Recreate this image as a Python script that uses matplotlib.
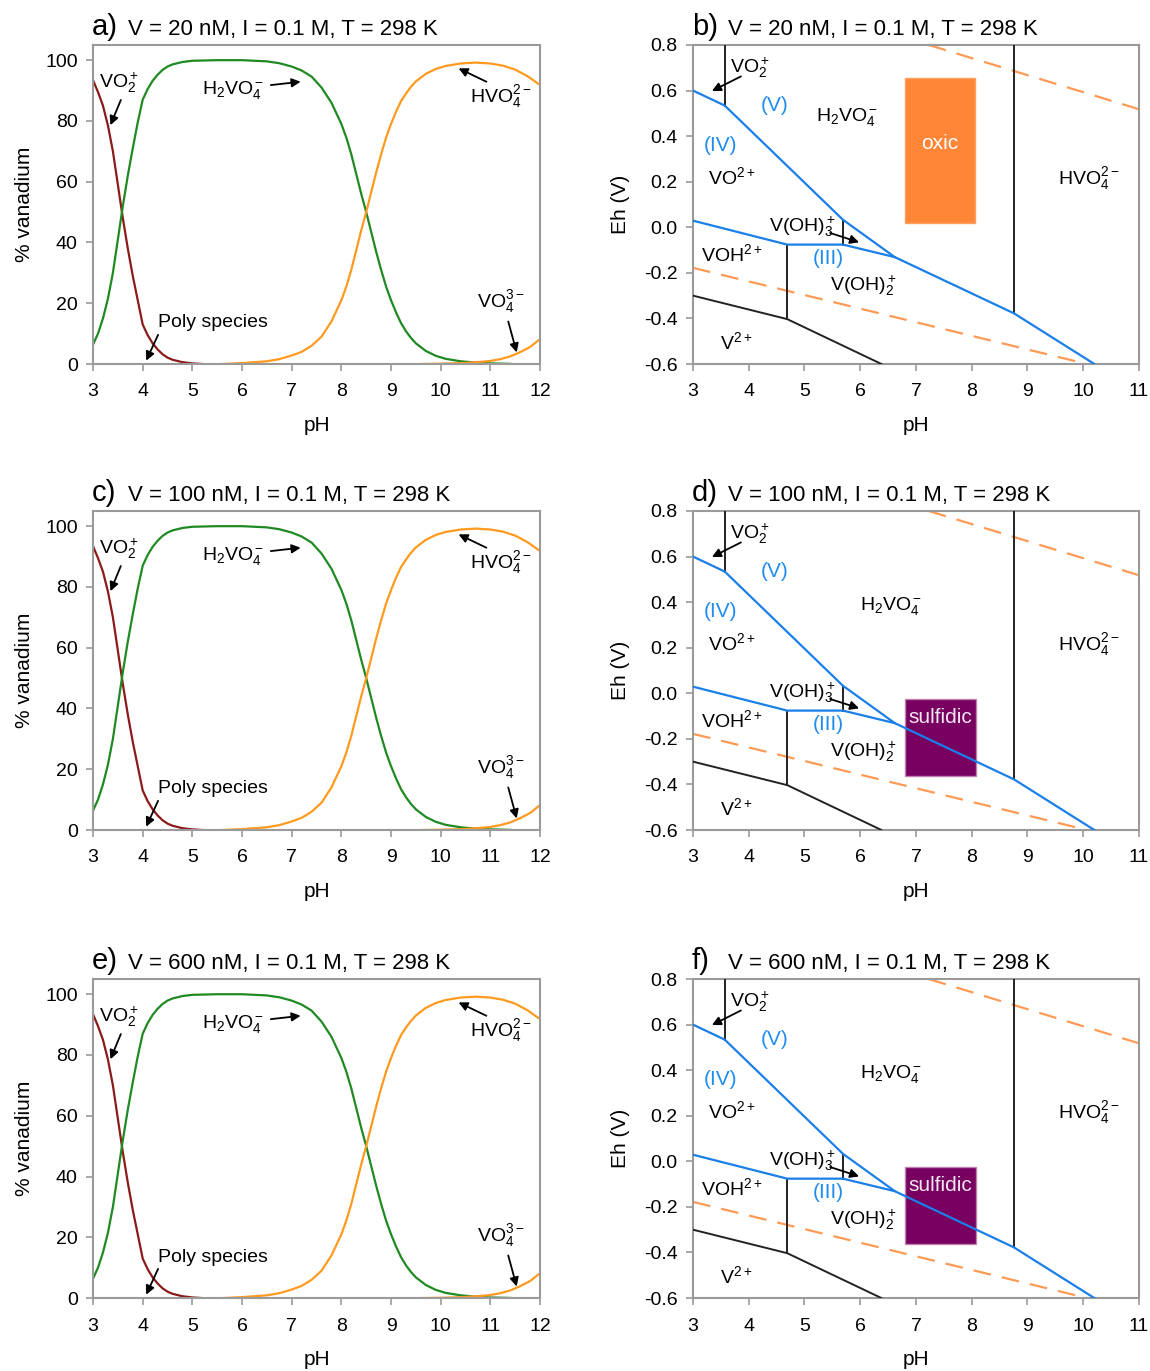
import numpy as np
import matplotlib
matplotlib.use("Agg")
import matplotlib.pyplot as plt
from matplotlib.patches import Rectangle

plt.rcParams['font.family'] = ['Liberation Sans', 'DejaVu Sans']
plt.rcParams['mathtext.fontset'] = 'custom'
plt.rcParams['mathtext.rm'] = 'Liberation Sans'
plt.rcParams['mathtext.it'] = 'Liberation Sans:italic'
plt.rcParams['mathtext.default'] = 'regular'

# ====== speciation data (% vanadium vs pH) ======
ph_vo2 = [3.0, 3.1, 3.2, 3.3, 3.4, 3.5, 3.6, 3.7, 3.8, 3.9, 4.0, 4.1, 4.2, 4.3, 4.4,
          4.5, 4.6, 4.8, 5.0, 5.2]
pct_vo2 = [93.4, 89.5, 85, 78.5, 70, 59, 48, 38, 29, 21, 13, 9.5, 6.8, 4.8, 3.2,
           2.1, 1.4, 0.6, 0.2, 0]

ph_h2vo4 = [3.0, 3.1, 3.2, 3.3, 3.4, 3.5, 3.6, 3.7, 3.8, 3.9, 4.0, 4.1, 4.2, 4.3, 4.4,
            4.5, 4.6, 4.8, 5.0, 5.5, 6.0, 6.5, 6.75, 7.0, 7.2, 7.4, 7.6, 7.8, 8.0, 8.1,
            8.2, 8.3, 8.4, 8.5, 8.6, 8.7, 8.8, 8.9, 9.0, 9.1, 9.2, 9.3, 9.4, 9.5, 9.7,
            9.9, 10.1, 10.4, 10.7, 11.0, 11.4]
pct_h2vo4 = [6.4, 10, 15, 21.5, 30, 41, 52, 62, 71, 79.5, 87, 90.5, 93.2, 95.2, 96.8,
             97.9, 98.6, 99.4, 99.8, 100, 100, 99.6, 99.0, 97.9, 96.6, 94.6, 91, 86, 79, 74.5,
             69, 62.5, 56, 50, 43.5, 37, 31, 25.5, 21, 17, 13.5, 10.8, 8.6, 6.8, 4.3,
             2.7, 1.7, 0.9, 0.45, 0.2, 0.05]

ph_hvo4 = [5.6, 6.0, 6.5, 6.75, 7.0, 7.2, 7.4, 7.6, 7.8, 8.0, 8.1, 8.2, 8.3, 8.4, 8.5,
           8.6, 8.7, 8.8, 8.9, 9.0, 9.1, 9.2, 9.3, 9.4, 9.5, 9.7, 9.9, 10.1, 10.4, 10.7,
           11.0, 11.25, 11.5, 11.75, 12.0]
pct_hvo4 = [0, 0.3, 0.9, 1.6, 2.8, 4.0, 6.0, 9, 14, 21, 25.5, 31, 37.5, 44, 50,
            56.5, 63, 69, 74.5, 79, 83, 86.5, 89, 91.2, 93, 95.5, 97.1, 98.1, 98.9, 99.2,
            98.9, 98.2, 96.9, 94.7, 91.8]

ph_vo4 = [9.6, 10.0, 10.5, 10.8, 11.0, 11.2, 11.4, 11.6, 11.8, 12.0]
pct_vo4 = [0, 0.1, 0.35, 0.7, 1.0, 1.6, 2.5, 3.9, 5.6, 8.2]

ph_poly = [3.0, 12.0]
pct_poly = [0, 0]

# ====== Eh-pH boundaries ======
blue_upper_ph = [3.0, 3.57, 5.69, 6.62, 8.76, 10.2]
blue_upper_eh = [0.60, 0.534, 0.033, -0.131, -0.378, -0.60]
blue_lower_ph = [3.0, 4.69, 5.69, 6.62]
blue_lower_eh = [0.029, -0.076, -0.076, -0.131]
black_lower_ph = [3.0, 4.69, 6.38]
black_lower_eh = [-0.30, -0.403, -0.60]
vlines_ph = [3.57, 5.69, 4.69, 8.76]
vlines_eh = [(0.534, 0.8), (-0.076, 0.033), (-0.403, -0.076), (-0.378, 0.8)]
water_up_ph = [7.23, 11.0]
water_up_eh = [0.80, 0.518]
water_lo_ph = [3.0, 10.07]
water_lo_eh = [-0.178, -0.60]

oxic_ph = (6.80, 8.06)
oxic_eh = (0.017, 0.656)
sulf_ph = (6.80, 8.07)
sulf_eh = (-0.361, -0.027)

titles_left = [('a)', 'V = 20 nM, I = 0.1 M, T = 298 K'),
               ('c)', 'V = 100 nM, I = 0.1 M, T = 298 K'),
               ('e)', 'V = 600 nM, I = 0.1 M, T = 298 K')]
titles_right = [('b)', 'V = 20 nM, I = 0.1 M, T = 298 K'),
                ('d)', 'V = 100 nM, I = 0.1 M, T = 298 K'),
                ('f)', 'V = 600 nM, I = 0.1 M, T = 298 K')]

RED = '#8b1a1a'
GREEN = '#1f8a22'
ORANGE = '#ff9a1f'
TEAL = '#1a8e9e'
BLUE = '#1a7fe8'
LBLUE = '#1f8cf0'
DASH = '#ff9a55'
SPINE = '#9a9a9a'

fig = plt.figure(figsize=(11.5, 13.71), dpi=100)
bottoms = [0.7345, 0.3946, 0.0532]
H = 0.2327


def style(ax):
    for s in ax.spines.values():
        s.set_color(SPINE)
        s.set_linewidth(1.5)
    ax.tick_params(direction='out', length=5, width=1.2, color=SPINE, labelsize=14)
    ax.tick_params(axis='x', pad=9)
    ax.tick_params(axis='y', pad=6)


def title(ax, tag, txt):
    ax.text(-0.003, 1.03, tag, transform=ax.transAxes, fontsize=21, va='baseline', ha='left')
    ax.text(0.078, 1.03, txt, transform=ax.transAxes, fontsize=16, va='baseline', ha='left')


def arrow(ax, start, end):
    ax.annotate('', xy=end, xytext=start,
                arrowprops=dict(arrowstyle='-|>', color='k', lw=1.3, mutation_scale=13,
                                shrinkA=0, shrinkB=0))


for i in range(3):
    # ---- speciation panel ----
    ax = fig.add_axes([0.0809, bottoms[i], 0.3887, H])
    ax.plot(ph_vo2, pct_vo2, color=RED, lw=1.6)
    ax.plot(ph_h2vo4, pct_h2vo4, color=GREEN, lw=1.6)
    ax.plot(ph_hvo4, pct_hvo4, color=ORANGE, lw=1.6)
    ax.plot(ph_vo4, pct_vo4, color=ORANGE, lw=1.6)
    ax.plot(ph_poly, pct_poly, color=TEAL, lw=1.8)
    ax.set_xlim(3, 12)
    ax.set_ylim(0, 105)
    ax.set_xticks(range(3, 13))
    ax.set_yticks(range(0, 101, 20))
    style(ax)
    ax.set_xlabel('pH', fontsize=15, labelpad=11)
    ax.set_ylabel('% vanadium', fontsize=15, labelpad=8)
    title(ax, *titles_left[i])

    ax.text(3.12, 92.5, r'VO$_2^+$', fontsize=14, va='center')
    arrow(ax, (3.56, 86.9), (3.35, 78.6))
    ax.text(5.2, 90.1, r'H$_2$VO$_4^-$', fontsize=14, va='center')
    arrow(ax, (6.58, 91.8), (7.18, 92.9))
    ax.text(10.58, 88, r'HVO$_4^{2-}$', fontsize=14, va='center')
    arrow(ax, (10.92, 92.9), (10.36, 97.3))
    ax.text(10.73, 20.6, r'VO$_4^{3-}$', fontsize=14, va='center')
    arrow(ax, (11.36, 14.0), (11.53, 3.8))
    ax.text(4.31, 13.5, 'Poly species', fontsize=14, va='center')
    arrow(ax, (4.31, 9.6), (4.07, 1.1))

    # ---- Eh-pH panel ----
    bx = fig.add_axes([0.6026, bottoms[i], 0.3878, H])
    if i == 0:
        bx.add_patch(Rectangle((oxic_ph[0], oxic_eh[0]), oxic_ph[1] - oxic_ph[0],
                               oxic_eh[1] - oxic_eh[0], facecolor='#ff8636',
                               edgecolor='#ffa060', lw=1, zorder=1))
        bx.text(np.mean(oxic_ph), 0.368, 'oxic', color='white', fontsize=15,
                ha='center', va='center', zorder=2)
    else:
        bx.add_patch(Rectangle((sulf_ph[0], sulf_eh[0]), sulf_ph[1] - sulf_ph[0],
                               sulf_eh[1] - sulf_eh[0], facecolor='#770060',
                               edgecolor='#c080b0', lw=1, zorder=1))
        bx.text(np.mean(sulf_ph), -0.108, 'sulfidic', color='#f4e6f0', fontsize=15,
                ha='center', va='center', zorder=4)
    bx.plot(water_up_ph, water_up_eh, color=DASH, lw=1.6, dashes=(8, 5), zorder=2)
    bx.plot(water_lo_ph, water_lo_eh, color=DASH, lw=1.6, dashes=(8, 5), zorder=2)
    bx.plot(black_lower_ph, black_lower_eh, color='#222222', lw=1.4, zorder=3)
    for xv, (y0, y1) in zip(vlines_ph, vlines_eh):
        bx.plot([xv, xv], [y0, y1], color='#222222', lw=1.4, zorder=3)
    bx.plot(blue_upper_ph, blue_upper_eh, color=BLUE, lw=1.6, zorder=3)
    bx.plot(blue_lower_ph, blue_lower_eh, color=BLUE, lw=1.6, zorder=3)
    bx.set_xlim(3, 11)
    bx.set_ylim(-0.6, 0.8)
    bx.set_xticks(range(3, 12))
    bx.set_yticks(np.arange(-0.6, 0.81, 0.2))
    bx.set_yticklabels(['-0.6', '-0.4', '-0.2', '0.0', '0.2', '0.4', '0.6', '0.8'])
    style(bx)
    bx.set_xlabel('pH', fontsize=15, labelpad=11)
    bx.set_ylabel('Eh (V)', fontsize=15, labelpad=10)
    title(bx, *titles_right[i])

    bx.text(3.67, 0.70, r'VO$_2^+$', fontsize=14, va='center', ha='left')
    arrow(bx, (3.86, 0.662), (3.34, 0.598))
    bx.text(4.46, 0.535, '(V)', fontsize=15, color=LBLUE, ha='center', va='center')
    if i == 0:
        bx.text(5.76, 0.484, r'H$_2$VO$_4^-$', fontsize=14, ha='center', va='center')
    else:
        bx.text(6.55, 0.385, r'H$_2$VO$_4^-$', fontsize=14, ha='center', va='center')
    bx.text(3.49, 0.36, '(IV)', fontsize=15, color=LBLUE, ha='center', va='center')
    bx.text(3.70, 0.222, r'VO$^{2+}$', fontsize=14, ha='center', va='center')
    bx.text(10.1, 0.215, r'HVO$_4^{2-}$', fontsize=14, ha='center', va='center')
    bx.text(4.97, 0.004, r'V(OH)$_3^+$', fontsize=14, ha='center', va='center', zorder=5)
    arrow(bx, (5.46, -0.025), (5.98, -0.066))
    bx.text(3.70, -0.119, r'VOH$^{2+}$', fontsize=14, ha='center', va='center')
    bx.text(5.43, -0.138, '(III)', fontsize=15, color=LBLUE, ha='center', va='center')
    bx.text(6.06, -0.257, r'V(OH)$_2^+$', fontsize=14, ha='center', va='center', zorder=5)
    bx.text(3.78, -0.505, r'V$^{2+}$', fontsize=14, ha='center', va='center')

fig.savefig('out.png', dpi=100)
